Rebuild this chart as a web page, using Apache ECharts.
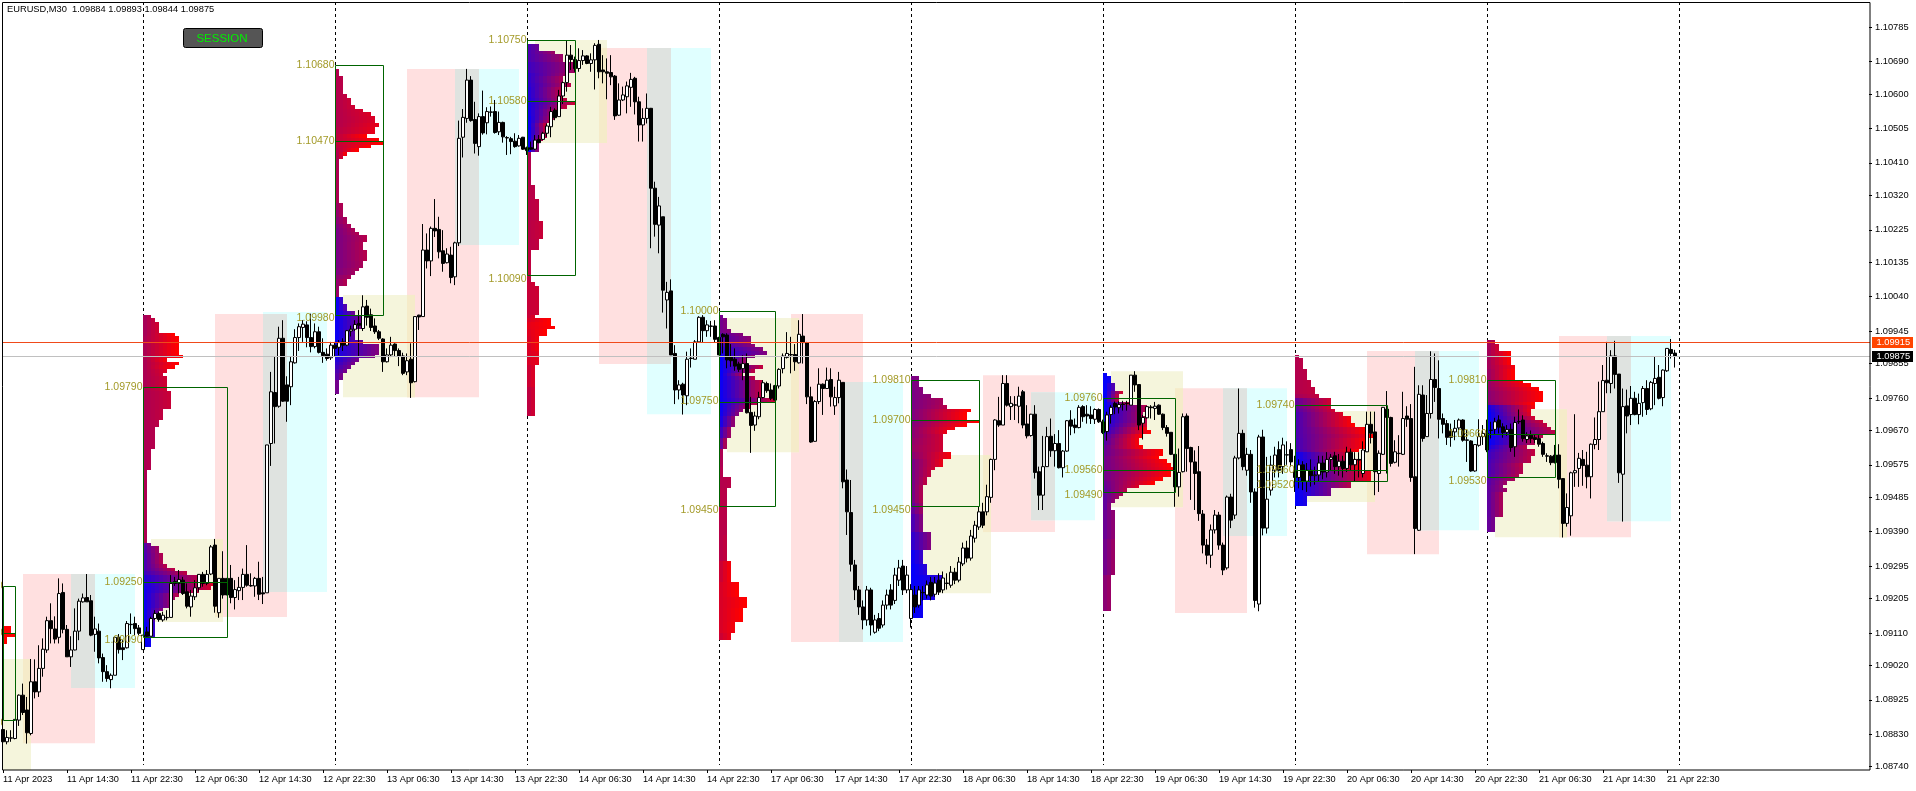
<!DOCTYPE html>
<html><head><meta charset="utf-8">
<style>html,body{margin:0;padding:0;background:#fff}#c{width:1916px;height:791px}</style>
<script src="https://cdn.jsdelivr.net/npm/echarts@6/dist/echarts.min.js"></script>
</head><body><div id="c"></div>
<script>
// All prices are points above 1.08000 (1 point = 0.00001)
const BASE = 1.08, POINT = 1e-5, BAR_SLOTS = 467, ROW = 10;
const chartTitle = 'EURUSD,M30  1.09884 1.09893 1.09844 1.09875';
const tickLabels = ['11 Apr 2023','11 Apr 14:30','11 Apr 22:30','12 Apr 06:30','12 Apr 14:30','12 Apr 22:30','13 Apr 06:30','13 Apr 14:30','13 Apr 22:30','14 Apr 06:30','14 Apr 14:30','14 Apr 22:30','17 Apr 06:30','17 Apr 14:30','17 Apr 22:30','18 Apr 06:30','18 Apr 14:30','18 Apr 22:30','19 Apr 06:30','19 Apr 14:30','19 Apr 22:30','20 Apr 06:30','20 Apr 14:30','20 Apr 22:30','21 Apr 06:30','21 Apr 14:30','21 Apr 22:30'];
const priceTicks = [1.10785,1.10690,1.10600,1.10505,1.10410,1.10320,1.10225,1.10135,1.10040,1.09945,1.09855,1.09760,1.09670,1.09575,1.09485,1.09390,1.09295,1.09205,1.09110,1.09020,1.08925,1.08830,1.08740];
const dayStarts = [35,83,131,179,227,275,323,371,419];

// [open, close, low, high]
const bars = [
[843,809,786,843],[809,821,802,841],[819,820,809,841],[818,871,816,871],[869,938,853,940],[938,890,883,970],[897,834,804,933],[832,975,827,1038],[975,947,929,1037],[947,1012,933,1076],
[1012,1065,989,1095],[1063,1144,1055,1155],[1144,1122,1081,1192],[1121,1093,1081,1156],[1098,1219,1081,1261],[1222,1120,1109,1247],[1120,1044,1044,1132],[1044,1063,1016,1101],[1063,1115,1062,1178],[1115,1198,1090,1205],
[1196,1207,1194,1219],[1208,1196,1196,1273],[1199,1104,1101,1215],[1106,1121,1058,1155],[1115,1041,1026,1136],[1042,1003,975,1053],[1003,984,975,1021],[981,993,957,998],[993,1098,993,1100],[1098,1064,1053,1107],
[1069,1064,1035,1090],[1069,1136,1067,1143],[1133,1134,1107,1164],[1136,1122,1104,1155],[1124,1109,1104,1132],[1064,1104,1064,1104],[1113,1101,1099,1127],[1101,1150,1101,1155],[1150,1164,1146,1173],[1164,1147,1141,1169],
[1146,1159,1141,1169],[1152,1153,1145,1173],[1153,1247,1153,1270],[1252,1247,1240,1265],[1247,1258,1219,1284],[1256,1219,1215,1265],[1224,1184,1178,1247],[1182,1212,1155,1229],[1210,1235,1201,1256],[1235,1272,1224,1273],
[1272,1247,1238,1279],[1247,1272,1242,1284],[1273,1348,1270,1353],[1353,1184,1166,1370],[1166,1261,1152,1261],[1261,1215,1205,1336],[1261,1215,1215,1261],[1261,1208,1192,1298],[1208,1230,1175,1256],[1227,1236,1201,1265],
[1236,1272,1201,1288],[1272,1242,1238,1353],[1241,1240,1238,1275],[1240,1261,1210,1265],[1261,1217,1201,1307],[1221,1218,1190,1265],[1221,1630,1221,1630],[1634,1777,1572,1832],[1775,1736,1634,1874],[1737,1925,1733,1957],
[1925,1751,1749,1975],[1796,1751,1694,1820],[1791,1860,1740,1875],[1857,1927,1855,1950],[1927,1957,1890,1966],[1955,1964,1915,1975],[1962,1927,1900,1972],[1927,1902,1886,1993],[1902,1943,1897,1966],[1943,1886,1883,1957],
[1886,1877,1857,1925],[1881,1869,1863,1897],[1871,1906,1865,1915],[1906,1897,1874,1915],[1900,1913,1878,1920],[1915,1906,1890,1925],[1906,1946,1903,1948],[1945,1950,1930,1960],[1950,1963,1945,1975],[1966,1961,1874,2003],
[1952,2012,1945,2044],[2014,1983,1960,2031],[1990,1955,1945,2007],[1959,1943,1937,1980],[1943,1925,1920,1948],[1923,1860,1832,1925],[1860,1879,1858,1897],[1879,1906,1873,1929],[1909,1891,1874,1911],[1891,1876,1848,1897],
[1876,1828,1823,1885],[1832,1863,1823,1883],[1867,1802,1760,1911],[1805,1985,1803,1985],[1989,1984,1948,1990],[1985,2169,1985,2241],[2169,2139,2118,2215],[2139,2229,2097,2234],[2229,2222,2205,2310],[2226,2164,2146,2261],
[2167,2132,2109,2224],[2134,2158,2132,2174],[2155,2093,2077,2178],[2095,2189,2072,2192],[2189,2478,2180,2527],[2481,2536,2425,2559],[2533,2639,2521,2670],[2639,2527,2524,2650],[2530,2464,2436,2579],[2455,2538,2430,2547],
[2538,2493,2488,2610],[2521,2552,2489,2564],[2550,2551,2538,2566],[2552,2494,2491,2584],[2496,2522,2487,2552],[2522,2482,2466,2524],[2480,2479,2432,2484],[2477,2469,2434,2482],[2470,2455,2452,2492],[2457,2478,2455,2487],
[2481,2448,2446,2482],[2452,2444,2432,2455],[2452,2448,2446,2469],[2448,2473,2446,2487],[2475,2466,2464,2487],[2475,2492,2473,2496],[2492,2512,2482,2519],[2510,2552,2481,2565],[2556,2535,2528,2561],[2538,2595,2538,2612],
[2595,2632,2573,2635],[2632,2708,2607,2748],[2708,2696,2667,2736],[2696,2671,2662,2704],[2671,2693,2662,2727],[2693,2706,2681,2722],[2706,2685,2683,2708],[2685,2695,2662,2713],[2695,2735,2613,2741],[2738,2662,2644,2750],
[2667,2662,2630,2708],[2662,2658,2586,2699],[2660,2648,2625,2708],[2650,2540,2529,2653],[2542,2584,2540,2630],[2584,2598,2581,2621],[2593,2623,2547,2635],[2619,2641,2565,2659],[2644,2579,2544,2648],[2579,2515,2469,2593],
[2515,2533,2469,2561],[2533,2561,2519,2602],[2561,2340,2174,2562],[2340,2240,2206,2358],[2238,2291,2160,2316],[2261,2058,1996,2261],[2031,2052,1952,2081],[2056,1879,1879,2088],[1883,1782,1743,1906],[1782,1796,1756,1809],
[1798,1768,1714,1802],[1766,1867,1740,1888],[1869,1870,1844,1897],[1867,1915,1867,1920],[1915,1983,1915,1986],[1983,1946,1913,1989],[1946,1962,1929,1975],[1959,1958,1929,1973],[1959,1922,1913,1975],[1927,1879,1879,1929],
[1936,1929,1883,1939],[1934,1865,1842,1939],[1874,1863,1846,1909],[1867,1848,1835,1897],[1854,1839,1832,1860],[1841,1855,1809,1878],[1855,1719,1717,1883],[1720,1684,1608,1763],[1685,1710,1669,1722],[1708,1761,1701,1777],
[1761,1802,1759,1809],[1800,1780,1774,1805],[1782,1759,1754,1800],[1794,1754,1754,1796],[1793,1839,1786,1842],[1841,1876,1828,1883],[1872,1883,1869,1942],[1880,1879,1828,1929],[1880,1860,1835,1909],[1857,1936,1855,1975],
[1931,1913,1855,1992],[1913,1763,1743,1915],[1763,1638,1636,1791],[1640,1750,1639,1754],[1750,1798,1743,1842],[1798,1786,1713,1800],[1786,1809,1786,1844],[1811,1763,1736,1842],[1738,1761,1713,1791],[1761,1809,1745,1832],
[1803,1528,1510,1803],[1533,1445,1381,1562],[1443,1300,1280,1533],[1298,1229,1201,1312],[1229,1182,1160,1240],[1182,1146,1120,1200],[1146,1229,1130,1240],[1229,1132,1103,1235],[1112,1146,1108,1160],[1150,1123,1115,1165],
[1132,1187,1125,1200],[1187,1215,1175,1230],[1229,1187,1175,1245],[1200,1270,1190,1290],[1256,1290,1240,1312],[1295,1229,1215,1312],[1229,1270,1220,1295],[1150,1230,1125,1245],[1215,1182,1165,1240],[1187,1229,1180,1240],
[1222,1221,1200,1240],[1215,1243,1205,1255],[1250,1212,1200,1265],[1217,1248,1210,1265],[1256,1223,1215,1275],[1229,1262,1220,1280],[1248,1247,1230,1275],[1242,1278,1235,1295],[1278,1256,1245,1290],[1256,1306,1250,1320],
[1301,1345,1295,1360],[1345,1317,1305,1365],[1317,1378,1310,1395],[1372,1408,1360,1420],[1403,1445,1395,1460],[1445,1408,1400,1470],[1445,1487,1435,1520],[1485,1590,1470,1592],[1590,1699,1560,1701],[1697,1685,1680,1763],
[1685,1800,1685,1823],[1800,1740,1736,1823],[1736,1745,1699,1765],[1741,1740,1699,1765],[1737,1765,1690,1791],[1777,1685,1676,1782],[1688,1655,1648,1740],[1656,1715,1653,1716],[1715,1554,1537,1740],[1556,1491,1450,1570],
[1491,1570,1450,1655],[1570,1653,1569,1680],[1654,1614,1597,1703],[1614,1634,1570,1660],[1634,1567,1565,1671],[1567,1613,1540,1616],[1613,1697,1611,1699],[1699,1682,1657,1726],[1685,1678,1662,1703],[1678,1734,1676,1740],
[1736,1708,1694,1740],[1715,1710,1689,1740],[1713,1703,1688,1737],[1701,1728,1688,1731],[1728,1694,1691,1731],[1694,1664,1660,1700],[1667,1713,1642,1722],[1714,1734,1689,1740],[1745,1735,1715,1750],[1733,1742,1717,1751],
[1743,1742,1725,1752],[1745,1744,1725,1752],[1740,1823,1740,1823],[1823,1796,1777,1834],[1797,1685,1671,1797],[1690,1706,1645,1713],[1705,1736,1703,1738],[1735,1733,1703,1740],[1731,1737,1699,1749],[1740,1715,1713,1742],
[1715,1678,1671,1717],[1678,1662,1653,1685],[1665,1604,1602,1665],[1604,1514,1459,1604],[1514,1554,1487,1620],[1556,1708,1554,1717],[1710,1620,1556,1717],[1623,1583,1478,1625],[1583,1551,1450,1615],[1556,1440,1420,1627],
[1439,1353,1330,1450],[1353,1325,1300,1370],[1325,1395,1290,1410],[1395,1436,1385,1450],[1436,1353,1340,1445],[1353,1284,1270,1360],[1290,1486,1285,1490],[1486,1422,1400,1495],[1436,1594,1425,1600],[1594,1662,1590,1786],
[1662,1570,1560,1672],[1560,1604,1545,1622],[1604,1500,1470,1616],[1500,1200,1180,1510],[1190,1652,1170,1658],[1652,1400,1380,1672],[1400,1480,1385,1597],[1505,1574,1490,1600],[1560,1602,1540,1625],[1617,1560,1540,1640],
[1570,1630,1550,1650],[1602,1603,1575,1640],[1617,1583,1570,1635],[1560,1540,1500,1600],[1540,1575,1510,1590],[1575,1530,1505,1585],[1530,1560,1500,1580],[1560,1545,1515,1590],[1545,1547,1520,1570],[1547,1580,1530,1600],
[1580,1555,1535,1600],[1555,1590,1540,1610],[1590,1596,1560,1605],[1600,1570,1550,1611],[1570,1585,1545,1605],[1585,1565,1540,1600],[1565,1610,1555,1625],[1610,1575,1560,1620],[1575,1590,1530,1610],[1590,1588,1540,1610],
[1551,1616,1540,1640],[1611,1687,1610,1722],[1687,1662,1634,1722],[1666,1556,1491,1722],[1551,1607,1500,1615],[1604,1734,1602,1735],[1729,1706,1551,1779],[1706,1579,1570,1708],[1582,1611,1579,1643],[1607,1606,1570,1657],
[1604,1703,1602,1777],[1710,1701,1680,1737],[1703,1540,1528,1743],[1542,1399,1328,1846],[1394,1770,1392,1795],[1768,1648,1639,1795],[1653,1717,1652,1768],[1717,1811,1703,1889],[1811,1789,1749,1883],[1786,1701,1648,1864],
[1703,1687,1662,1717],[1689,1651,1630,1699],[1668,1651,1625,1689],[1666,1676,1643,1699],[1677,1699,1653,1703],[1699,1643,1639,1701],[1644,1643,1583,1671],[1641,1558,1556,1643],[1558,1631,1556,1632],[1629,1653,1625,1701],
[1653,1662,1630,1685],[1662,1616,1610,1700],[1671,1670,1648,1694],[1673,1694,1660,1705],[1699,1679,1662,1712],[1680,1664,1650,1690],[1665,1673,1655,1685],[1673,1623,1611,1689],[1625,1692,1597,1708],[1695,1694,1688,1728],
[1699,1648,1639,1712],[1645,1655,1635,1665],[1657,1648,1635,1670],[1650,1645,1635,1660],[1648,1632,1625,1657],[1634,1604,1597,1639],[1600,1599,1583,1607],[1599,1581,1574,1602],[1602,1581,1579,1630],[1602,1535,1510,1632],
[1537,1413,1374,1537],[1413,1457,1404,1496],[1434,1553,1379,1556],[1553,1559,1514,1715],[1565,1593,1514,1608],[1590,1573,1517,1616],[1574,1542,1510,1611],[1542,1632,1482,1634],[1631,1645,1618,1706],[1645,1722,1616,1805],
[1722,1808,1722,1851],[1809,1802,1773,1915],[1800,1876,1773,1892],[1876,1825,1786,1918],[1826,1553,1525,1826],[1549,1736,1418,1786],[1738,1710,1662,1783],[1714,1759,1685,1793],[1759,1714,1712,1777],[1714,1745,1687,1772],
[1747,1786,1708,1793],[1786,1728,1713,1809],[1730,1803,1726,1807],[1800,1814,1740,1876],[1817,1759,1756,1851],[1761,1837,1737,1839],[1835,1897,1832,1897],[1894,1883,1869,1923],[1884,1875,1844,1893]
];

// Session ranges: [startBar, endBar, high, low]
const londonSessions = [[5,23,1273,805],[53,71,1992,1154],[101,119,2670,1762],[149,167,2728,1854],[197,215,1992,1085],[245,263,1823,1389],[293,311,1787,1165],[341,359,1890,1328],[389,407,1931,1375]];
const newYorkSessions = [[17,33,1273,958],[65,81,1998,1223],[113,129,2670,2183],[161,177,2728,1715],[209,225,1804,1085],[257,273,1776,1422],[305,321,1787,1378],[353,369,1890,1394],[401,417,1931,1419]];
const asiaSessions = [[0,7,1038,731],[37,55,1370,1140],[85,103,2045,1762],[133,151,2750,2465],[181,199,1981,1610],[229,247,1602,1220],[277,295,1834,1458],[325,343,1724,1472],[373,391,1729,1375]];

// Value-area boxes: [startBar, endBar, high, poc, low]
const valueBoxes = [[0,3,1240,1110,860],[35,56,1790,1250,1090],[83,95,2680,2470,1980],[131,143,2750,2580,2090],[179,193,2000,1750,1450],[227,244,1810,1700,1450],[275,293,1760,1560,1490],[323,346,1740,1560,1520],[371,388,1810,1660,1530]];

// Profile rows top to bottom: [rowCount, cells, timeShadeLeft, timeShadeRight]
const profile11Apr = {bar:0, top:1130, rows:[[2,2,1,1],[1,3,1,1],[2,1,1,1]]};
const profile12Apr = {bar:35, top:1990, rows:[[1,2,.65,.7],[1,3,.66,.75],[3,4,.66,.8],[1,8,.66,1],[5,9,.68,1],[1,10,.7,1],[1,6,.68,.95],[1,9,.68,1],[1,8,.68,1],[1,6,.68,.85],[1,5,.68,.8],[4,6,.68,.8],[5,7,.68,.78],[3,5,.68,.75],[2,4,.68,.72],[6,3,.68,.7],[6,2,.68,.7],[20,1,.68,.68],[1,2,.35,.45],[2,4,.33,.6],[3,5,.3,.68],[1,6,.3,.7],[1,8,.3,.72],[1,11,.25,.72],[2,15,.15,.75],[1,18,.1,.85],[1,17,.08,.8],[1,14,.08,.75],[1,9,.08,.7],[1,8,.08,.62],[2,7,.06,.55],[1,5,.05,.5],[2,4,.05,.4],[1,3,.05,.3],[4,3,.02,.2],[3,2,.01,.05]]};
const profile13Apr = {bar:83, top:2670, rows:[[2,1,.7,.7],[5,2,.7,.72],[1,3,.7,.75],[2,4,.7,.78],[1,5,.7,.8],[1,7,.7,.82],[1,9,.7,.85],[2,10,.7,.85],[1,11,.7,.9],[2,10,.72,.9],[1,8,.75,1],[1,11,.75,1],[1,12,.78,1],[1,9,.75,1],[1,6,.72,1],[1,3,.7,.95],[1,2,.7,.8],[12,1,.68,.68],[2,2,.62,.68],[2,2,.58,.65],[2,3,.55,.65],[1,4,.5,.65],[1,5,.48,.66],[1,6,.48,.68],[2,8,.48,.7],[2,7,.48,.68],[3,8,.48,.7],[2,7,.48,.65],[1,6,.5,.65],[1,5,.5,.62],[1,4,.55,.65],[2,3,.58,.68],[3,1,.6,.6],[2,2,.05,.2],[2,3,.05,.3],[1,5,.05,.4],[1,7,.05,.45],[3,7,.05,.45],[3,5,.05,.35],[1,7,.05,.4],[3,11,.1,.5],[1,10,.1,.5],[1,6,.15,.45],[1,5,.2,.45],[1,4,.25,.45],[1,3,.3,.45],[2,2,.35,.45],[4,1,.45,.45]]};
const profile14Apr = {bar:131, top:2740, rows:[[2,3,.3,.4],[1,7,.3,.6],[2,9,.3,.6],[3,12,.25,.62],[1,10,.2,.6],[2,9,.2,.65],[1,11,.18,.72],[3,9,.15,.72],[1,10,.12,.75],[1,12,.1,.78],[1,10,.1,.75],[2,8,.08,.72],[1,7,.05,.7],[1,6,.05,.7],[1,5,.05,.75],[2,5,.03,.72],[1,5,.03,.72],[1,4,.02,.7],[3,3,.02,.55],[9,1,.7,.7],[4,2,.72,.72],[6,3,.72,.75],[5,4,.72,.78],[3,3,.72,.75],[9,1,.75,.75],[1,2,.78,.8],[8,3,.78,.8],[1,2,.8,.85],[1,6,.85,1],[1,6,.9,1],[1,7,.9,1],[2,5,.88,1],[4,3,.85,.95],[4,3,.85,.9],[6,2,.8,.85],[8,2,.75,.8]]};
const profile17Apr = {bar:179, top:1990, rows:[[1,1,.45,.5],[3,2,.45,.5],[1,3,.45,.52],[1,6,.35,.52],[2,8,.3,.55],[1,9,.25,.55],[1,11,.15,.52],[1,12,.1,.5],[1,9,.03,.55],[2,7,.02,.6],[1,11,.02,.75],[1,9,.02,.72],[1,6,.02,.65],[1,9,.03,.72],[5,11,.05,.75],[1,14,.05,.78],[1,10,.05,.72],[1,8,.05,.68],[1,6,.05,.55],[1,5,.06,.5],[3,4,.1,.55],[3,3,.25,.6],[3,2,.4,.65],[5,1,.68,.68],[3,1,.7,.7],[3,3,.7,.72],[4,2,.72,.72],[9,2,.72,.72],[7,2,.72,.75],[6,3,.8,.95],[4,5,.85,1],[3,7,.85,1],[4,6,.85,1],[3,4,.85,.95],[2,3,.8,.9]]};
const profile18Apr = {bar:227, top:1820, rows:[[3,2,.48,.5],[2,3,.48,.52],[1,5,.48,.55],[2,8,.48,.65],[1,9,.48,.7],[1,15,.5,1],[2,14,.5,1],[1,17,.5,1],[1,14,.52,1],[1,11,.55,.95],[1,9,.55,.9],[1,8,.55,.8],[2,8,.58,.8],[2,8,.6,.8],[2,10,.55,.95],[2,8,.48,.9],[1,6,.48,.8],[2,5,.48,.75],[2,4,.48,.72],[5,3,.48,.68],[3,3,.4,.6],[5,3,.3,.5],[5,5,.2,.5],[4,3,.05,.2],[3,4,.02,.15],[4,8,.02,.15],[3,6,.01,.1],[5,3,.01,.05]]};
const profile19Apr = {bar:275, top:1830, rows:[[1,1,.02,.02],[2,2,.02,.05],[2,3,.02,.3],[1,5,.02,.8],[2,4,.02,.7],[1,7,.02,.75],[2,11,.03,.7],[1,10,.05,.65],[2,11,.08,.7],[1,11,.1,.8],[1,11,.15,.95],[1,12,.2,1],[1,10,.3,1],[2,9,.35,.95],[1,10,.4,1],[2,15,.42,1],[1,14,.45,1],[1,16,.45,1],[1,17,.45,1],[1,18,.45,1],[2,17,.45,1],[1,15,.45,1],[1,13,.42,1],[1,9,.4,.85],[1,6,.38,.7],[1,5,.38,.65],[1,4,.38,.6],[1,3,.38,.55],[2,2,.38,.5],[8,3,.42,.55],[10,3,.45,.6],[10,2,.55,.6]]};
const profile20Apr = {bar:323, top:1880, rows:[[1,1,.7,.7],[3,2,.7,.72],[3,3,.7,.72],[2,4,.7,.74],[2,5,.7,.75],[1,6,.65,.75],[3,9,.4,.8],[1,10,.35,.8],[1,12,.3,.85],[2,14,.3,.95],[1,15,.3,1],[2,18,.3,1],[1,20,.3,1],[3,18,.28,1],[1,16,.25,1],[2,14,.05,.85],[3,17,.03,.95],[3,19,.03,.9],[2,14,.03,.7],[2,9,.02,.45],[3,3,.02,.1]]};
const profile21Apr = {bar:371, top:1920, rows:[[1,2,.65,.7],[2,3,.65,.8],[2,6,.65,1],[2,6,.65,.98],[1,7,.65,.95],[2,7,.62,1],[1,7,.62,1],[1,9,.6,1],[1,11,.6,1],[1,13,.58,1],[3,14,.55,1],[1,12,.5,1],[1,12,.1,.95],[1,11,.05,.9],[1,11,.02,.85],[1,12,.02,.8],[1,14,.02,.78],[1,15,.01,.75],[1,16,.01,.72],[1,17,.01,.72],[1,14,.01,.7],[2,12,.02,.68],[1,10,.1,.7],[1,12,.2,.75],[1,12,.25,.75],[1,11,.25,.72],[1,11,.28,.72],[1,9,.3,.72],[2,9,.3,.7],[1,8,.32,.68],[1,7,.35,.65],[1,5,.35,.6],[1,4,.38,.55],[1,5,.38,.6],[7,4,.38,.65],[4,2,.4,.45]]};
const profiles = [profile11Apr,profile12Apr,profile13Apr,profile14Apr,profile17Apr,profile18Apr,profile19Apr,profile20Apr,profile21Apr];
const priceLevels = [[1.09915,'#F04A1A','#FF4500'],[1.09875,'#C0C0C0','#000000']];

const price = p => +(BASE + p * POINT).toFixed(5);
const FONT = '"Liberation Sans", Arial, sans-serif';
const categories = Array.from({length: BAR_SLOTS}, (_, i) => String(i));

// expand profile rows into single cells
const cells = [];
profiles.forEach(pf => {
  let level = pf.top;
  pf.rows.forEach(([n, w, t0, t1]) => {
    for (let r = 0; r < n; r++) {
      for (let k = 0; k < w; k++) {
        cells.push([pf.bar + k, price(level), w > 1 ? t0 + (t1 - t0) * k / (w - 1) : t0]);
      }
      level -= ROW;
    }
  });
});

// where two sessions overlap the reference shows a mixed tint
const intersect = (list1, list2, kind) => {
  const out = [];
  list1.forEach(a => list2.forEach(b => {
    const s = Math.max(a[0], b[0]), e = Math.min(a[1], b[1]);
    const hi = Math.min(a[2], b[2]), lo = Math.max(a[3], b[3]);
    if (s < e && lo < hi) out.push([s, e, hi, lo, kind]);
  }));
  return out;
};
const sessionRows = [
  ...londonSessions.map(s => [...s, 'pink']),
  ...newYorkSessions.map(s => [...s, 'cyan']),
  ...asiaSessions.map(s => [...s, 'beige']),
  ...intersect(londonSessions, newYorkSessions, 'grey'),
  ...intersect(londonSessions, asiaSessions, 'warm')
];
const sessionFill = {pink: '#FFE0E0', cyan: '#E0FFFF', beige: '#F5F5DC', grey: '#DFE3E0', warm: '#F5EBC9'};

const chart = echarts.init(document.getElementById('c'), null, {renderer: 'canvas', width: 1916, height: 791});
chart.setOption({
  animation: false,
  backgroundColor: '#fff',
  title: {text: chartTitle, left: 2, top: 0, padding: 5, textStyle: {fontFamily: FONT, fontSize: 9.3, fontWeight: 'normal', color: '#000'}},
  grid: {left: 1, top: 2, width: 4 * BAR_SLOTS, height: 768, containLabel: false},
  xAxis: {
    type: 'category', data: categories, boundaryGap: true,
    axisLine: {show: false},
    axisTick: {show: true, alignWithLabel: true, length: 3, lineStyle: {color: '#000'},
      interval: i => i % 16 === 0 && i / 16 < tickLabels.length},
    axisLabel: {show: true, align: 'left', margin: 5, fontFamily: FONT, fontSize: 9.2, color: '#000',
      interval: i => i % 16 === 0 && i / 16 < tickLabels.length,
      formatter: v => tickLabels[Number(v) / 16] || ''},
    splitLine: {show: false}
  },
  yAxis: {
    type: 'value', position: 'right', min: 1.08731, max: 1.10855, scale: true,
    axisLine: {show: false},
    axisTick: {show: true, length: 3, lineStyle: {color: '#000'}, customValues: priceTicks},
    axisLabel: {show: true, margin: 6, fontFamily: FONT, fontSize: 9.3, color: '#000', customValues: priceTicks, hideOverlap: false,
      formatter: v => v.toFixed(5)},
    splitLine: {show: false}
  },
  graphic: [
    {type: 'rect', z: 100, silent: true, shape: {x: 2.5, y: 2.5, width: 1867.5, height: 767.5}, style: {fill: 'none', stroke: '#000', lineWidth: 1}},
    {type: 'rect', z: 100, silent: true, shape: {x: 183.5, y: 28.5, width: 79, height: 19, r: 2}, style: {fill: '#555555', stroke: '#000', lineWidth: 1}},
    {type: 'text', z: 101, silent: true, style: {text: 'SESSION', x: 222, y: 38.5, fill: '#00f000', font: '11.5px ' + FONT, align: 'center', verticalAlign: 'middle'}}
  ],
  series: [
    {
      type: 'custom', name: 'Sessions', z: 1, silent: true, clip: true, progressive: 0,
      data: sessionRows.map(s => [s[0], price(s[2])]),
      encode: {x: 0, y: 1},
      renderItem: (params, api) => {
        const s = sessionRows[params.dataIndex];
        const a = api.coord([s[0], price(s[2])]), b = api.coord([s[1], price(s[3])]);
        return {type: 'rect', shape: {x: a[0], y: a[1], width: b[0] - a[0], height: b[1] - a[1]}, style: {fill: sessionFill[s[4]]}};
      }
    },
    {
      type: 'custom', name: 'Day separators', z: 2, silent: true, clip: true, progressive: 0,
      data: dayStarts.map(d => [d, 1.09]),
      encode: {x: 0, y: 1},
      renderItem: (params, api) => {
        const d = dayStarts[params.dataIndex];
        const t = api.coord([d, 1.10855]), b = api.coord([d, 1.08745]);
        return {type: 'line', shape: {x1: t[0] + .5, y1: t[1], x2: t[0] + .5, y2: b[1]}, style: {stroke: '#000', lineWidth: 1, lineDash: [3, 3]}};
      }
    },
    {
      type: 'custom', name: 'Market profile', z: 3, silent: true, clip: true, progressive: 0,
      data: cells,
      encode: {x: 0, y: 1},
      renderItem: (params, api) => {
        const c = cells[params.dataIndex];
        const a = api.coord([c[0], c[1]]), b = api.coord([c[0] + 1, c[1] - ROW * POINT]);
        const y0 = Math.round(a[1]), y1 = Math.round(b[1]);
        const t = c[2];
        return {type: 'rect', shape: {x: Math.round(a[0]), y: y0, width: 4, height: y1 - y0},
          style: {fill: 'rgb(' + Math.round(255 * t) + ',0,' + Math.round(255 * (1 - t)) + ')'}};
      }
    },
    {
      type: 'candlestick', name: 'EURUSD', z: 4, barWidth: 3, silent: true,
      data: bars.map(b => b.map(price)),
      itemStyle: {color: '#fff', color0: '#000', borderColor: '#000', borderColor0: '#000', borderWidth: 1}
    },
    {
      type: 'custom', name: 'Value areas', z: 5, silent: true, clip: true, progressive: 0,
      data: valueBoxes.map(b => [b[0], price(b[2])]),
      encode: {x: 0, y: 1},
      renderItem: (params, api) => {
        const [s, e, hi, poc, lo] = valueBoxes[params.dataIndex];
        const tl = api.coord([s, price(hi)]), br = api.coord([e, price(lo + ROW)]), m = api.coord([s, price(poc)]);
        const x0 = Math.round(tl[0]) + .5, x1 = Math.round(br[0]) + .5;
        const y0 = Math.round(tl[1]) + .5, y1 = Math.round(br[1]) + .5, ym = Math.round(m[1]) + .5;
        const stroke = {fill: 'none', stroke: '#006400', lineWidth: 1};
        const label = (v) => ({type: 'text', style: {text: price(v).toFixed(5), x: x0 - 1, y: api.coord([s, price(v)])[1],
          fill: '#a39a28', font: '10.5px ' + FONT, align: 'right', verticalAlign: 'middle'}});
        return {type: 'group', children: [
          {type: 'rect', shape: {x: x0, y: y0, width: x1 - x0, height: y1 - y0}, style: stroke},
          {type: 'line', shape: {x1: x0, y1: ym, x2: x1, y2: ym}, style: stroke},
          label(hi), label(poc), label(lo)
        ]};
      }
    },
    {
      type: 'custom', name: 'Price levels', z: 6, silent: true, clip: false, progressive: 0,
      data: priceLevels.map(l => [0, l[0]]),
      encode: {x: 0, y: 1},
      renderItem: (params, api) => {
        const [level, lineColor, tagColor] = priceLevels[params.dataIndex];
        const y = Math.round(api.coord([0, level])[1]);
        const cs = params.coordSys, right = cs.x + cs.width;
        return {type: 'group', children: [
          {type: 'line', shape: {x1: 3, y1: y + .5, x2: right + 1, y2: y + .5}, style: {stroke: lineColor, lineWidth: 1}},
          {type: 'rect', shape: {x: right + 3, y: y - 5, width: 41, height: 11}, style: {fill: tagColor}},
          {type: 'text', style: {text: level.toFixed(5), x: right + 7.5, y: y + .5, fill: '#fff', font: '9.3px ' + FONT, align: 'left', verticalAlign: 'middle'}}
        ]};
      }
    }
  ]
});
</script></body></html>
